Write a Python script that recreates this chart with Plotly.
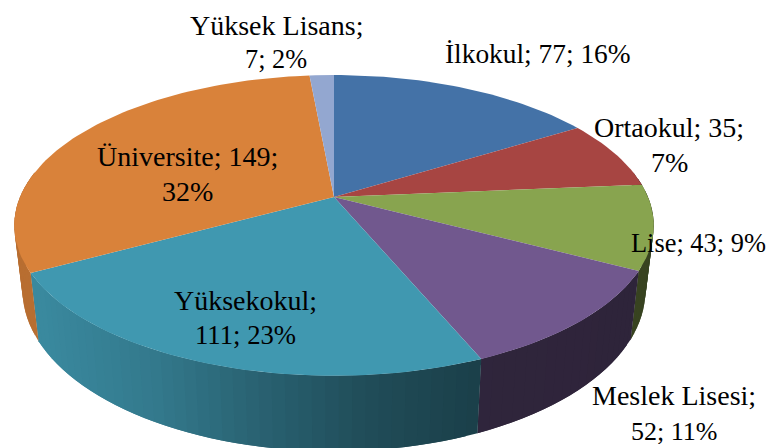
import math
import plotly.graph_objects as go

categories = ["İlkokul", "Ortaokul", "Lise", "Meslek Lisesi", "Yüksekokul", "Üniversite", "Yüksek Lisans"]
values = [77, 35, 43, 52, 111, 149, 7]
percents = [16, 7, 9, 11, 23, 32, 2]

top_colors = ["#4472A7", "#A74542", "#88A44F", "#71588E", "#4098B0", "#D9823A", "#93A7D0"]
wall_colors = top_colors

CX, CY, B, A, K = 334.0, 197.0, 314.0, 145.0, 0.189
SX = 0.974
SY = 1.07
DY = 63.0
FONT = "Liberation Serif"

# label layout: (slice index, line text builder, centre x, centre y, font size)
LINE_LAYOUT = [
    (0, "full", 538, 54, 27.4),
    (1, "name_val", 669, 127, 28), (1, "pct", 669, 162, 28),
    (2, "full", 698, 243, 26.4),
    (3, "name", 674, 395, 28), (3, "val_pct", 674, 431, 26),
    (4, "name", 245, 300, 28), (4, "val_pct", 245, 335, 26.7),
    (5, "name_val", 187, 156, 28), (5, "pct", 187, 191, 28),
    (6, "name", 276, 25, 28), (6, "val_pct", 276, 59, 26.3),
]


def top_pt(theta):
    X, Y = math.sin(theta), math.cos(theta)
    d = 1 + K * Y
    return CX + B * X / d, CY - A * Y / d


def bot_pt(theta):
    x, y = top_pt(theta)
    return CX + (x - CX) * SX, CY + (y - CY) * SY + DY


def shade(hex_color, f):
    r, g, b = (int(hex_color[i:i + 2], 16) for i in (1, 3, 5))
    return f"rgb({round(r * f)},{round(g * f)},{round(b * f)})"


def wall_factor(x):
    pts = [(0, 0.90), (40, 0.90), (150, 0.80), (260, 0.64), (370, 0.50), (476, 0.42), (768, 0.40)]
    for (x0, f0), (x1, f1) in zip(pts, pts[1:]):
        if x0 <= x <= x1:
            return f0 + (f1 - f0) * (x - x0) / (x1 - x0)
    return 0.40


total = sum(values)
bounds = [0.0]
for v in values:
    bounds.append(bounds[-1] + v / total * 2 * math.pi)

fig = go.Figure()


def poly(xs, ys, color):
    fig.add_trace(go.Scatter(
        x=xs, y=ys, mode="lines", fill="toself", fillcolor=color,
        line=dict(color=color, width=0), hoverinfo="skip", showlegend=False,
    ))


def arc(fn, a, b, n):
    return [fn(a + (b - a) * j / n) for j in range(n + 1)]


# side walls (front half only), narrow overlapping strips give the shading
for i in range(len(values)):
    a0, a1 = bounds[i], bounds[i + 1]
    lo, hi = max(a0, math.radians(80)), min(a1, math.radians(280))
    if hi <= lo:
        continue
    n = max(1, int((hi - lo) / math.radians(2)))
    for j in range(n):
        t0 = lo + (hi - lo) * j / n
        t1 = lo + (hi - lo) * min(j + 2, n) / n
        top = arc(top_pt, t0, t1, 4)
        bot = arc(bot_pt, t0, t1, 4)[::-1]
        mid_x = top_pt(lo + (hi - lo) * (j + 0.5) / n)[0]
        f = 0.85 if i == 5 else wall_factor(mid_x)
        pts = top + bot + [top[0]]
        poly([p[0] for p in pts], [p[1] for p in pts], shade(wall_colors[i], f))

# top faces
for i in range(len(values)):
    a0, a1 = bounds[i], bounds[i + 1]
    n = max(4, int((a1 - a0) / math.radians(1.5)))
    pts = arc(top_pt, a0, a1, n)
    xs = [CX] + [p[0] for p in pts] + [CX]
    ys = [CY] + [p[1] for p in pts] + [CY]
    poly(xs, ys, top_colors[i])

annotations = []
for idx, kind, x, y, size in LINE_LAYOUT:
    name, val, pct = categories[idx], values[idx], percents[idx]
    text = {
        "full": f"{name}; {val}; {pct}%",
        "name_val": f"{name}; {val};",
        "name": f"{name};",
        "pct": f"{pct}%",
        "val_pct": f"{val}; {pct}%",
    }[kind]
    annotations.append(dict(
        x=x, y=y, xref="x", yref="y", text=text, showarrow=False,
        xanchor="center", yanchor="middle",
        font=dict(family=FONT, size=size, color="#000000"),
    ))

fig.update_layout(
    width=768, height=448,
    margin=dict(l=0, r=0, t=0, b=0),
    paper_bgcolor="white", plot_bgcolor="white",
    showlegend=False,
    annotations=annotations,
    xaxis=dict(range=[0, 768], visible=False, fixedrange=True),
    yaxis=dict(range=[448, 0], visible=False, fixedrange=True),
)
fig.write_html(
    "out.html",
    config=dict(displayModeBar=False),
    post_script="document.body.style.margin='0';document.documentElement.style.overflow='hidden';",
)
